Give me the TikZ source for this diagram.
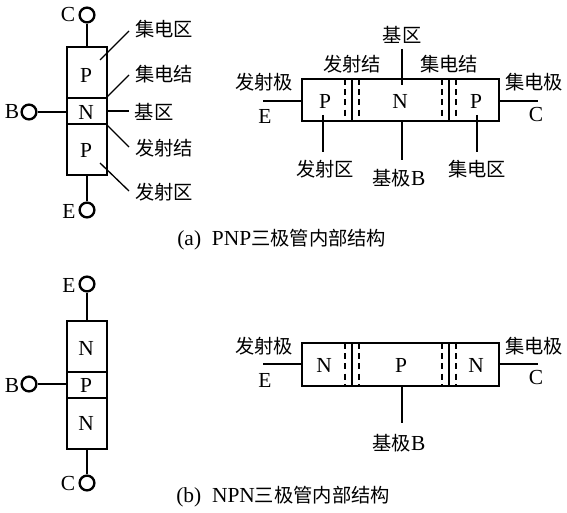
\documentclass[tikz,border=0pt]{standalone}
\usepackage{fontspec}
\setmainfont{Liberation Serif}
\newfontfamily\cjk[Scale=0.9]{Noto Sans CJK SC}
\tikzset{
  wire/.style={line width=.75pt},
  wall/.style={line width=1.25pt},
  junction/.style={line width=1.4pt},
  depletion/.style={line width=.6pt,dash pattern=on 3.4pt off 2.4pt},
  terminal/.style={circle,draw,fill=white,line width=1.35pt,minimum size=8.4pt,inner sep=0pt},
  lbl/.style={inner sep=0pt},
}
\begin{document}
\begin{tikzpicture}[x=.02cm,y=-.02cm,font=\fontsize{12.2}{14}\selectfont]
\useasboundingbox (0,0) rectangle (567,513);
% (a) vertical PNP
\draw[wall] (66.7,47) rectangle (106.7,175);
\draw[wall] (66.7,98)--(106.7,98);
\draw[wall] (66.7,124)--(106.7,124);
\coordinate (atop) at (87,47);
\coordinate (abot) at (87,175);
\coordinate (aleft) at (66.7,112);
\node[terminal] (aC) at (87,15) {};
\node[terminal] (aE) at (87,210) {};
\node[terminal] (aB) at (29,112) {};
\draw[wire] (aC)--(atop);
\draw[wire] (aE)--(abot);
\draw[wire] (aB)--(aleft);
\node[lbl] (aClbl) at (68,15) {C};
\node[lbl] (aBlbl) at (12,112) {B};
\node[lbl] (aElbl) at (69,211) {E};
\node[lbl] (aP1) at (86,75) {P};
\node[lbl] (aN) at (86,112) {N};
\node[lbl] (aP2) at (86,150) {P};
\node[lbl] (ajq) at (164,29) {\cjk 集电区};
\node[lbl] (ajj) at (164,74) {\cjk 集电结};
\node[lbl] (ajiq) at (154,112) {\cjk 基区};
\node[lbl] (afj) at (164,148) {\cjk 发射结};
\node[lbl] (afq) at (164,192) {\cjk 发射区};
\coordinate (l1a) at (100,60);
\coordinate (l1b) at (129,31);
\coordinate (l2a) at (107,97);
\coordinate (l2b) at (129,75);
\coordinate (l3a) at (107,111);
\coordinate (l3b) at (129,111);
\coordinate (l4a) at (107,125);
\coordinate (l4b) at (129,147);
\coordinate (l5a) at (100,163);
\coordinate (l5b) at (129,191);
\draw[wire] (l1a)--(l1b);
\draw[wire] (l2a)--(l2b);
\draw[wire] (l3a)--(l3b);
\draw[wire] (l4a)--(l4b);
\draw[wire] (l5a)--(l5b);
% (a) horizontal PNP
\draw[wall] (302,79) rectangle (499,121);
\draw[junction] (352,79)--(352,121);
\draw[junction] (449,79)--(449,121);
\draw[depletion] (345,79)--(345,121);
\draw[depletion] (359,79)--(359,121);
\draw[depletion] (442,79)--(442,121);
\draw[depletion] (456,79)--(456,121);
\node[lbl] (hP1) at (325,101) {P};
\node[lbl] (hN) at (400,101) {N};
\node[lbl] (hP2) at (476,101) {P};
\node[lbl] (hE) at (265,116) {E};
\node[lbl] (hC) at (536,115) {C};
\node[lbl] (hfj) at (264,82) {\cjk 发射极};
\node[lbl] (hjj) at (534,82) {\cjk 集电极};
\node[lbl] (hfjj) at (352,64) {\cjk 发射结};
\node[lbl] (hjjj) at (449,64) {\cjk 集电结};
\node[lbl] (hjq) at (402,35) {\cjk 基区};
\node[lbl] (hfq) at (325,169) {\cjk 发射区};
\node[lbl] (hB) at (399,178) {{\cjk 基极}B};
\node[lbl] (hjiq) at (477,169) {\cjk 集电区};
\coordinate (e1) at (263,101);
\coordinate (e2) at (302,101);
\coordinate (c1) at (499,101);
\coordinate (c2) at (538,101);
\coordinate (q1) at (402,49);
\coordinate (q2) at (402,85);
\coordinate (f1) at (323,115);
\coordinate (f2) at (323,152);
\coordinate (b1) at (402,121);
\coordinate (b2) at (402,160);
\coordinate (j1) at (477,115);
\coordinate (j2) at (477,152);
\draw[wire] (e1)--(e2);
\draw[wire] (c1)--(c2);
\draw[wire] (q1)--(q2);
\draw[wire] (f1)--(f2);
\draw[wire] (b1)--(b2);
\draw[wire] (j1)--(j2);
\node[lbl,anchor=west] (capa) at (177,240) {(a)\ \ PNP{\cjk 三极管内部结构}};
% (b) vertical NPN
\draw[wall] (66.7,321) rectangle (106.7,449);
\draw[wall] (66.7,372)--(106.7,372);
\draw[wall] (66.7,398)--(106.7,398);
\coordinate (btop) at (87,321);
\coordinate (bbot) at (87,449);
\coordinate (bleft) at (66.7,384);
\node[terminal] (bE) at (87,284) {};
\node[terminal] (bC) at (87,483) {};
\node[terminal] (bB) at (29,384) {};
\draw[wire] (bE)--(btop);
\draw[wire] (bC)--(bbot);
\draw[wire] (bB)--(bleft);
\node[lbl] (bElbl) at (69,285) {E};
\node[lbl] (bClbl) at (68,484) {C};
\node[lbl] (bBlbl) at (12,386) {B};
\node[lbl] (bN1) at (86,348) {N};
\node[lbl] (bP) at (86,385) {P};
\node[lbl] (bN2) at (86,423) {N};
% (b) horizontal NPN
\draw[wall] (302,343) rectangle (499,386);
\draw[junction] (352,343)--(352,386);
\draw[junction] (449,343)--(449,386);
\draw[depletion] (345,343)--(345,386);
\draw[depletion] (359,343)--(359,386);
\draw[depletion] (442,343)--(442,386);
\draw[depletion] (456,343)--(456,386);
\node[lbl] (nN1) at (324,365) {N};
\node[lbl] (nP) at (401,365) {P};
\node[lbl] (nN2) at (476,365) {N};
\node[lbl] (nE) at (265,380) {E};
\node[lbl] (nC) at (536,378) {C};
\node[lbl] (nfj) at (264,346) {\cjk 发射极};
\node[lbl] (njj) at (534,346) {\cjk 集电极};
\node[lbl] (nB) at (399,443) {{\cjk 基极}B};
\coordinate (ne1) at (263,364);
\coordinate (ne2) at (302,364);
\coordinate (nc1) at (499,364);
\coordinate (nc2) at (538,364);
\coordinate (nb1) at (402,386);
\coordinate (nb2) at (402,423);
\draw[wire] (ne1)--(ne2);
\draw[wire] (nc1)--(nc2);
\draw[wire] (nb1)--(nb2);
\node[lbl,anchor=west] (capb) at (176,497) {(b)\ \ NPN{\cjk 三极管内部结构}};
\end{tikzpicture}
\end{document}
